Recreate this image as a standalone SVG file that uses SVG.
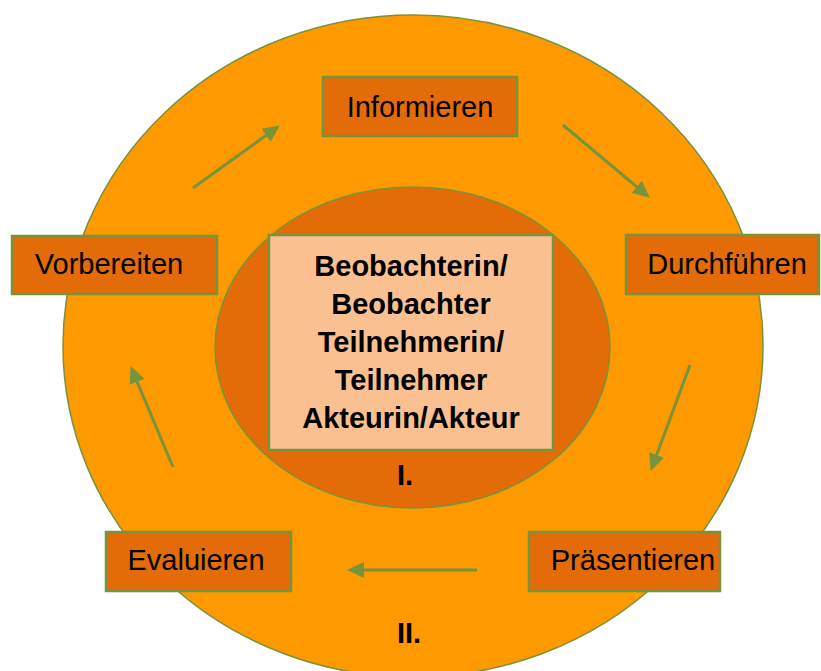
<svg xmlns="http://www.w3.org/2000/svg" width="821" height="671" viewBox="0 0 821 671">
<style>
  .ring { fill: #FF9900; stroke: #77933C; stroke-width: 1.5; }
  .core { fill: #E36C09; stroke: #77933C; stroke-width: 1.5; }
  .box { fill: #E36C09; stroke: #77933C; stroke-width: 2.5; }
  .cbox { fill: #FAC090; stroke: #77933C; stroke-width: 2.5; }
  .lbl { font-family: "Liberation Sans", Arial, sans-serif; font-size: 29px; fill: #000; text-anchor: middle; }
  .bold { font-family: "Liberation Sans", Arial, sans-serif; font-size: 29px; font-weight: bold; fill: #000; text-anchor: middle; }
  .arr { stroke: #77933C; stroke-width: 3; fill: none; marker-end: url(#head); }
</style>
<defs>
  <marker id="head" markerUnits="userSpaceOnUse" markerWidth="17" markerHeight="16" refX="4" refY="8" orient="auto">
    <path d="M0,0 L17,8 L0,16 z" fill="#77933C"/>
  </marker>
</defs>
<rect width="821" height="671" fill="#FFFFFF"/>
<g id="outer-ring">
  <ellipse class="ring" cx="413" cy="346" rx="350" ry="331"/>
  <text class="bold" x="409" y="643">II.</text>
</g>
<g id="inner-ring">
  <ellipse class="core" cx="412.5" cy="347.5" rx="197.5" ry="160.5"/>
  <text class="bold" x="405" y="485">I.</text>
</g>
<g id="roles">
  <rect class="cbox" x="269" y="235" width="284" height="215"/>
  <text class="bold" x="411" y="276">Beobachterin/</text>
  <text class="bold" x="411" y="314">Beobachter</text>
  <text class="bold" x="411" y="352">Teilnehmerin/</text>
  <text class="bold" x="411" y="390">Teilnehmer</text>
  <text class="bold" x="411" y="428">Akteurin/Akteur</text>
</g>
<g id="informieren">
  <rect class="box" x="323" y="77" width="194" height="59"/>
  <text class="lbl" x="420" y="117">Informieren</text>
</g>
<g id="durchfuehren">
  <rect class="box" x="626" y="235" width="193" height="59"/>
  <text class="lbl" x="727" y="274">Durchführen</text>
</g>
<g id="praesentieren">
  <rect class="box" x="529" y="532" width="191" height="59"/>
  <text class="lbl" x="633" y="570">Präsentieren</text>
</g>
<g id="evaluieren">
  <rect class="box" x="106" y="532" width="185" height="59"/>
  <text class="lbl" x="196" y="570">Evaluieren</text>
</g>
<g id="vorbereiten">
  <rect class="box" x="12" y="236" width="205" height="58"/>
  <text class="lbl" x="109" y="274">Vorbereiten</text>
</g>
<g id="connectors">
  <line class="arr" x1="193" y1="188" x2="269.3" y2="133"/>
  <line class="arr" x1="563" y1="125" x2="639.8" y2="189.3"/>
  <line class="arr" x1="690" y1="365" x2="655.2" y2="458.7"/>
  <line class="arr" x1="477" y1="570" x2="360" y2="570"/>
  <line class="arr" x1="173" y1="467" x2="135.6" y2="378.1"/>
</g>
</svg>
